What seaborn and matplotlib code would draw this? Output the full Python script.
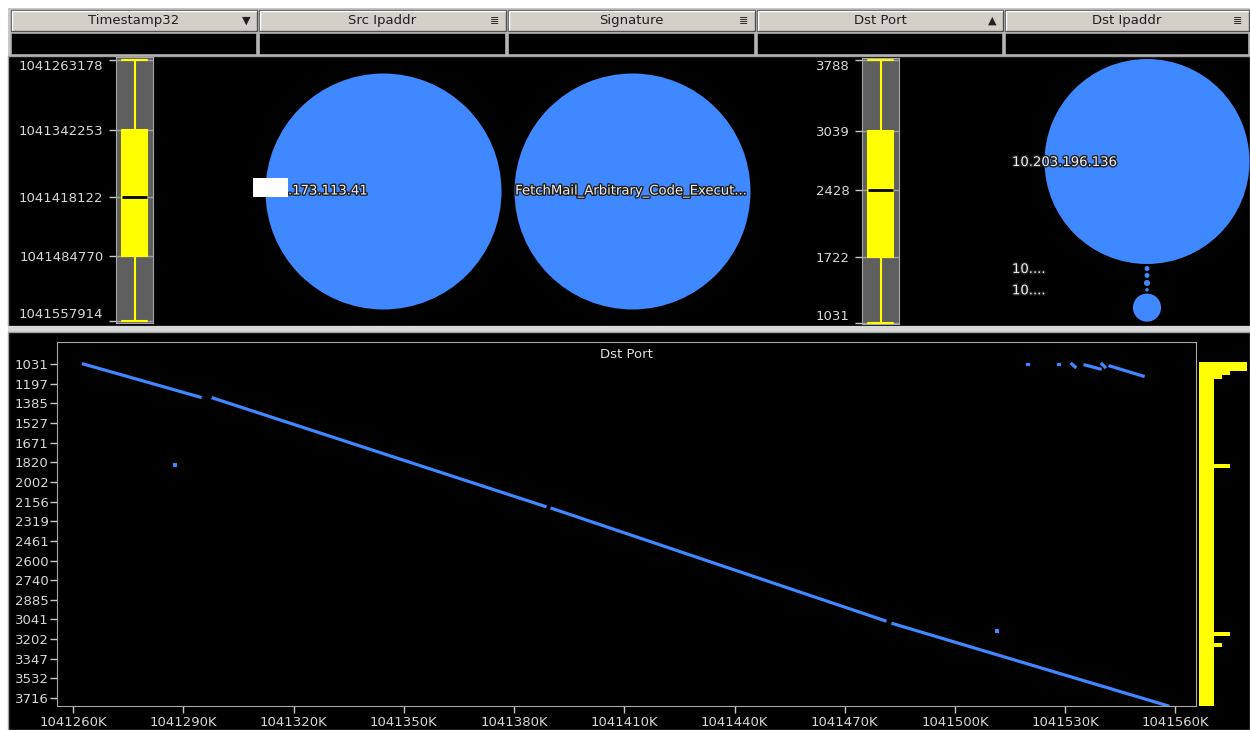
import numpy as np
import pandas as pd
import matplotlib
matplotlib.use('Agg')
import matplotlib.pyplot as plt
from matplotlib.patches import Rectangle
import matplotlib.patheffects as pe
import seaborn as sns

sns.set_style('dark')
plt.rcParams['font.family'] = ['DejaVu Sans']

# column headers of the view
headers = ['Timestamp32', 'Src Ipaddr', 'Signature', 'Dst Port', 'Dst Ipaddr']
header_icons = ['▼', '≣', '≣', '▲', '≣']

# five-number summaries (min, q1, median, q3, max)
ts_stats = [1041263178, 1041342253, 1041418122, 1041484770, 1041557914]
port_stats = [1031, 1722, 2428, 3039, 3788]

# bubble columns
src_ips = ['.173.113.41']
src_counts = [3472]
signatures = ['FetchMail_Arbitrary_Code_Execut...']
sig_counts = [3472]
dst_ips = ['10.203.196.136', '10....', '10....', '10....', '10....', '10....']
dst_counts = [3400, 2, 2, 3, 1, 64]

# bottom view: Dst Port against Timestamp32
x_ticks = [1041260000, 1041290000, 1041320000, 1041350000, 1041380000, 1041410000,
           1041440000, 1041470000, 1041500000, 1041530000, 1041560000]
port_ticks = [1031, 1197, 1385, 1527, 1671, 1820, 2002, 2156, 2319, 2461,
              2600, 2740, 2885, 3041, 3202, 3347, 3532, 3716]

line_seg = [0, 0, 1, 1, 2, 2, 3, 3, 4, 4, 5, 5, 6, 6, 7, 7, 8, 8, 9, 9]
line_ts = [1041262800, 1041294558, 1041298095, 1041388435, 1041390340, 1041480952,
           1041483129, 1041557914,
           1041519600, 1041519900, 1041528000, 1041528300, 1041531800, 1041532700,
           1041535400, 1041539500, 1041540000, 1041540800, 1041542200, 1041551200]
line_port = [1031, 1326, 1335, 2196, 2213, 3051, 3075, 3788,
             1031, 1031, 1031, 1031, 1031, 1056, 1039, 1073, 1031, 1056, 1048, 1133]
single_ts = [1041287755, 1041511400]
single_port = [1847, 3133]

# side histogram of Dst Port
hist_edges = [1014, 1090, 1124, 1158, 1838, 1876, 3141, 3175, 3228, 3259, 3790]
hist_counts = [48, 31, 23, 15, 31, 15, 31, 15, 23, 15]

BLUE = '#4088ff'
YELLOW = '#ffff00'
TXT = '#d8d8d8'
W, H = 1250, 730
fig = plt.figure(figsize=(W / 100, H / 100), dpi=100, facecolor='white')


def px_box(x0, y0, x1, y1):
    return [x0 / W, 1 - y1 / H, (x1 - x0) / W, (y1 - y0) / H]


ax_bg = fig.add_axes([0, 0, 1, 1])
ax_bg.set_xlim(0, W)
ax_bg.set_ylim(H, 0)
ax_bg.axis('off')

# frame, header and filter row
ax_bg.add_patch(Rectangle((8, 8), W - 8, 48, facecolor='#c8c8c8', edgecolor='none'))
ax_bg.add_patch(Rectangle((8, 56), W - 8, 270, facecolor='black', edgecolor='#a0a0a0', lw=1))
ax_bg.add_patch(Rectangle((8, 326), W - 8, 6, facecolor='#d8d8d8', edgecolor='none'))
ax_bg.add_patch(Rectangle((8, 332), W - 8, H - 332, facecolor='black', edgecolor='#a0a0a0', lw=1))
col_edges = [10, 258, 507, 756, 1004, W]
for i, name in enumerate(headers):
    x0, x1 = col_edges[i], col_edges[i + 1]
    ax_bg.add_patch(Rectangle((x0 + 1, 10), x1 - x0 - 2, 21, facecolor='#d4d0c8',
                              edgecolor='#505050', lw=1))
    ax_bg.plot([x0 + 2, x1 - 2], [11, 11], color='white', lw=1)
    ax_bg.plot([x0 + 2, x0 + 2], [11, 30], color='white', lw=1)
    ax_bg.text((x0 + x1) / 2, 20.5, name, ha='center', va='center', fontsize=9.5, color='#202020')
    ax_bg.text(x1 - 12, 20.5, header_icons[i], ha='center', va='center', fontsize=8, color='#202020')
    ax_bg.add_patch(Rectangle((x0 + 1, 33), x1 - x0 - 2, 22, facecolor='black',
                              edgecolor='#b0b0b0', lw=1.2))

outline = [pe.withStroke(linewidth=2, foreground='#202020')]


def bubbles(xc, ys, counts, rmax):
    smax = (2 * rmax * 72 / 100) ** 2
    sns.scatterplot(x=[xc] * len(counts), y=ys, size=counts, sizes=(0, smax),
                    size_norm=(0, max(counts)), color=BLUE, linewidth=0,
                    legend=False, ax=ax_bg, zorder=3)


# Src Ipaddr and Signature bubbles
bubbles((258 + 507) / 2, [191], src_counts, 118)
ax_bg.add_patch(Rectangle((253, 178), 35, 19, facecolor='white', edgecolor='none', zorder=4))
ax_bg.text(288, 191, src_ips[0], ha='left', va='center', fontsize=9.5, color='#eeeeee',
           path_effects=outline, zorder=5)
bubbles((507 + 756) / 2, [191], sig_counts, 118)
ax_bg.text(632, 191, signatures[0], ha='center', va='center', fontsize=9.5, color='#eeeeee',
           path_effects=outline, zorder=5)

# Dst Ipaddr bubbles stacked from the top
radii = [102.5 * np.sqrt(c / max(dst_counts)) for c in dst_counts]
ys, top = [], 59
for r in radii:
    ys.append(top + r)
    top += 2 * r + 2
bubbles(1147, ys, dst_counts, 102.5)
last = -100
for lab, y in zip(dst_ips, ys):
    if y - last >= 20:
        ax_bg.text(1012, y + 1, lab, ha='left', va='center', fontsize=9.5, color='#eeeeee',
                   path_effects=outline, zorder=5)
        last = y
ax_bg.set_xlim(0, W)
ax_bg.set_ylim(H, 0)
ax_bg.set_xlabel('')
ax_bg.set_ylabel('')


def box_panel(box, stats, ylim, top_is_min):
    ax = fig.add_axes(px_box(*box))
    ax.set_facecolor('#5f5f5f')
    sns.boxplot(y=stats, whis=np.inf, width=0.65, saturation=1, color=YELLOW,
                linecolor=YELLOW, linewidth=1.5, capwidths=0.65,
                boxprops=dict(facecolor=YELLOW, edgecolor=YELLOW),
                medianprops=dict(color='black', lw=2),
                whiskerprops=dict(color=YELLOW, lw=1.5),
                capprops=dict(color=YELLOW, lw=1.5), ax=ax)
    ax.set_xlim(-0.5, 0.5)
    ax.set_ylim(*ylim)
    ax.set_yticks(stats)
    labels = ax.set_yticklabels([str(v) for v in stats])
    # end labels are kept inside the panel
    labels[0].set_va('top' if top_is_min else 'bottom')
    labels[-1].set_va('bottom' if top_is_min else 'top')
    ax.set_xticks([])
    ax.set_ylabel('')
    ax.set_axisbelow(True)
    ax.yaxis.grid(True, color='#a0a0a0', lw=1)
    ax.xaxis.grid(False)
    ax.tick_params(axis='y', left=True, colors='#c8c8c8', labelcolor=TXT, length=5,
                   width=1, pad=4, labelsize=9.5)
    for s in ax.spines.values():
        s.set_visible(True)
        s.set_color('#a8a8a8')
    return ax


box_panel((116, 57, 153, 323), ts_stats, (1041557914 + 2300, 1041263178 - 3400), True)
box_panel((862, 58, 899, 324), port_stats, (1031 - 10.5, 3788 + 21), False)

# port axis: evenly spaced tick values
pt = np.array(port_ticks, float)
idx = np.arange(len(pt), dtype=float)


def fwd(v):
    v = np.asarray(v, float)
    out = np.interp(v, pt, idx)
    out = np.where(v < pt[0], (v - pt[0]) / (pt[1] - pt[0]), out)
    out = np.where(v > pt[-1], idx[-1] + (v - pt[-1]) / (pt[-1] - pt[-2]), out)
    return out


def inv(u):
    u = np.asarray(u, float)
    out = np.interp(u, idx, pt)
    out = np.where(u < 0, pt[0] + u * (pt[1] - pt[0]), out)
    out = np.where(u > idx[-1], pt[-1] + (u - idx[-1]) * (pt[-1] - pt[-2]), out)
    return out


ax_sc = fig.add_axes(px_box(57, 342, 1196, 706))
ax_sc.set_facecolor('black')
df = pd.DataFrame({'ts': line_ts, 'port': line_port, 'seg': line_seg})
sns.lineplot(data=df, x='ts', y='port', units='seg', estimator=None, sort=False,
             color=BLUE, lw=2.3, solid_capstyle='projecting', ax=ax_sc)
sns.scatterplot(x=single_ts, y=single_port, marker='s', s=6, color=BLUE, linewidth=0, ax=ax_sc)
ax_sc.set_yscale('function', functions=(fwd, inv))
ax_sc.set_ylim(3790, 845)
ax_sc.set_xlim(1041255600, 1041565600)
ax_sc.set_yticks(port_ticks)
ax_sc.set_yticklabels([str(v) for v in port_ticks])
ax_sc.set_xticks(x_ticks)
ax_sc.set_xticklabels([f'{v // 1000}K' for v in x_ticks])
ax_sc.minorticks_off()
ax_sc.grid(False)
ax_sc.set_xlabel('')
ax_sc.set_ylabel('')
ax_sc.tick_params(axis='both', left=True, bottom=True, colors='#c8c8c8', labelcolor=TXT,
                  length=5, width=1, labelsize=9.5)
ax_sc.tick_params(axis='y', pad=1)
ax_sc.tick_params(axis='x', pad=2)
for s in ax_sc.spines.values():
    s.set_visible(True)
    s.set_color('#a8a8a8')
ax_sc.text(0.5, 1 - 12 / 364, 'Dst Port', transform=ax_sc.transAxes, ha='center',
           va='center', fontsize=9.5, color='#e0e0e0')

# histogram on the right, same port axis
ax_h = fig.add_axes(px_box(1199, 342, 1247, 706))
ax_h.barh(hist_edges[:-1], hist_counts, height=np.diff(hist_edges), align='edge',
          color=YELLOW, linewidth=0)
ax_h.set_yscale('function', functions=(fwd, inv))
ax_h.set_ylim(3790, 845)
ax_h.set_xlim(0, 48)
ax_h.axis('off')

fig.savefig('out.png', dpi=100, facecolor='white')
